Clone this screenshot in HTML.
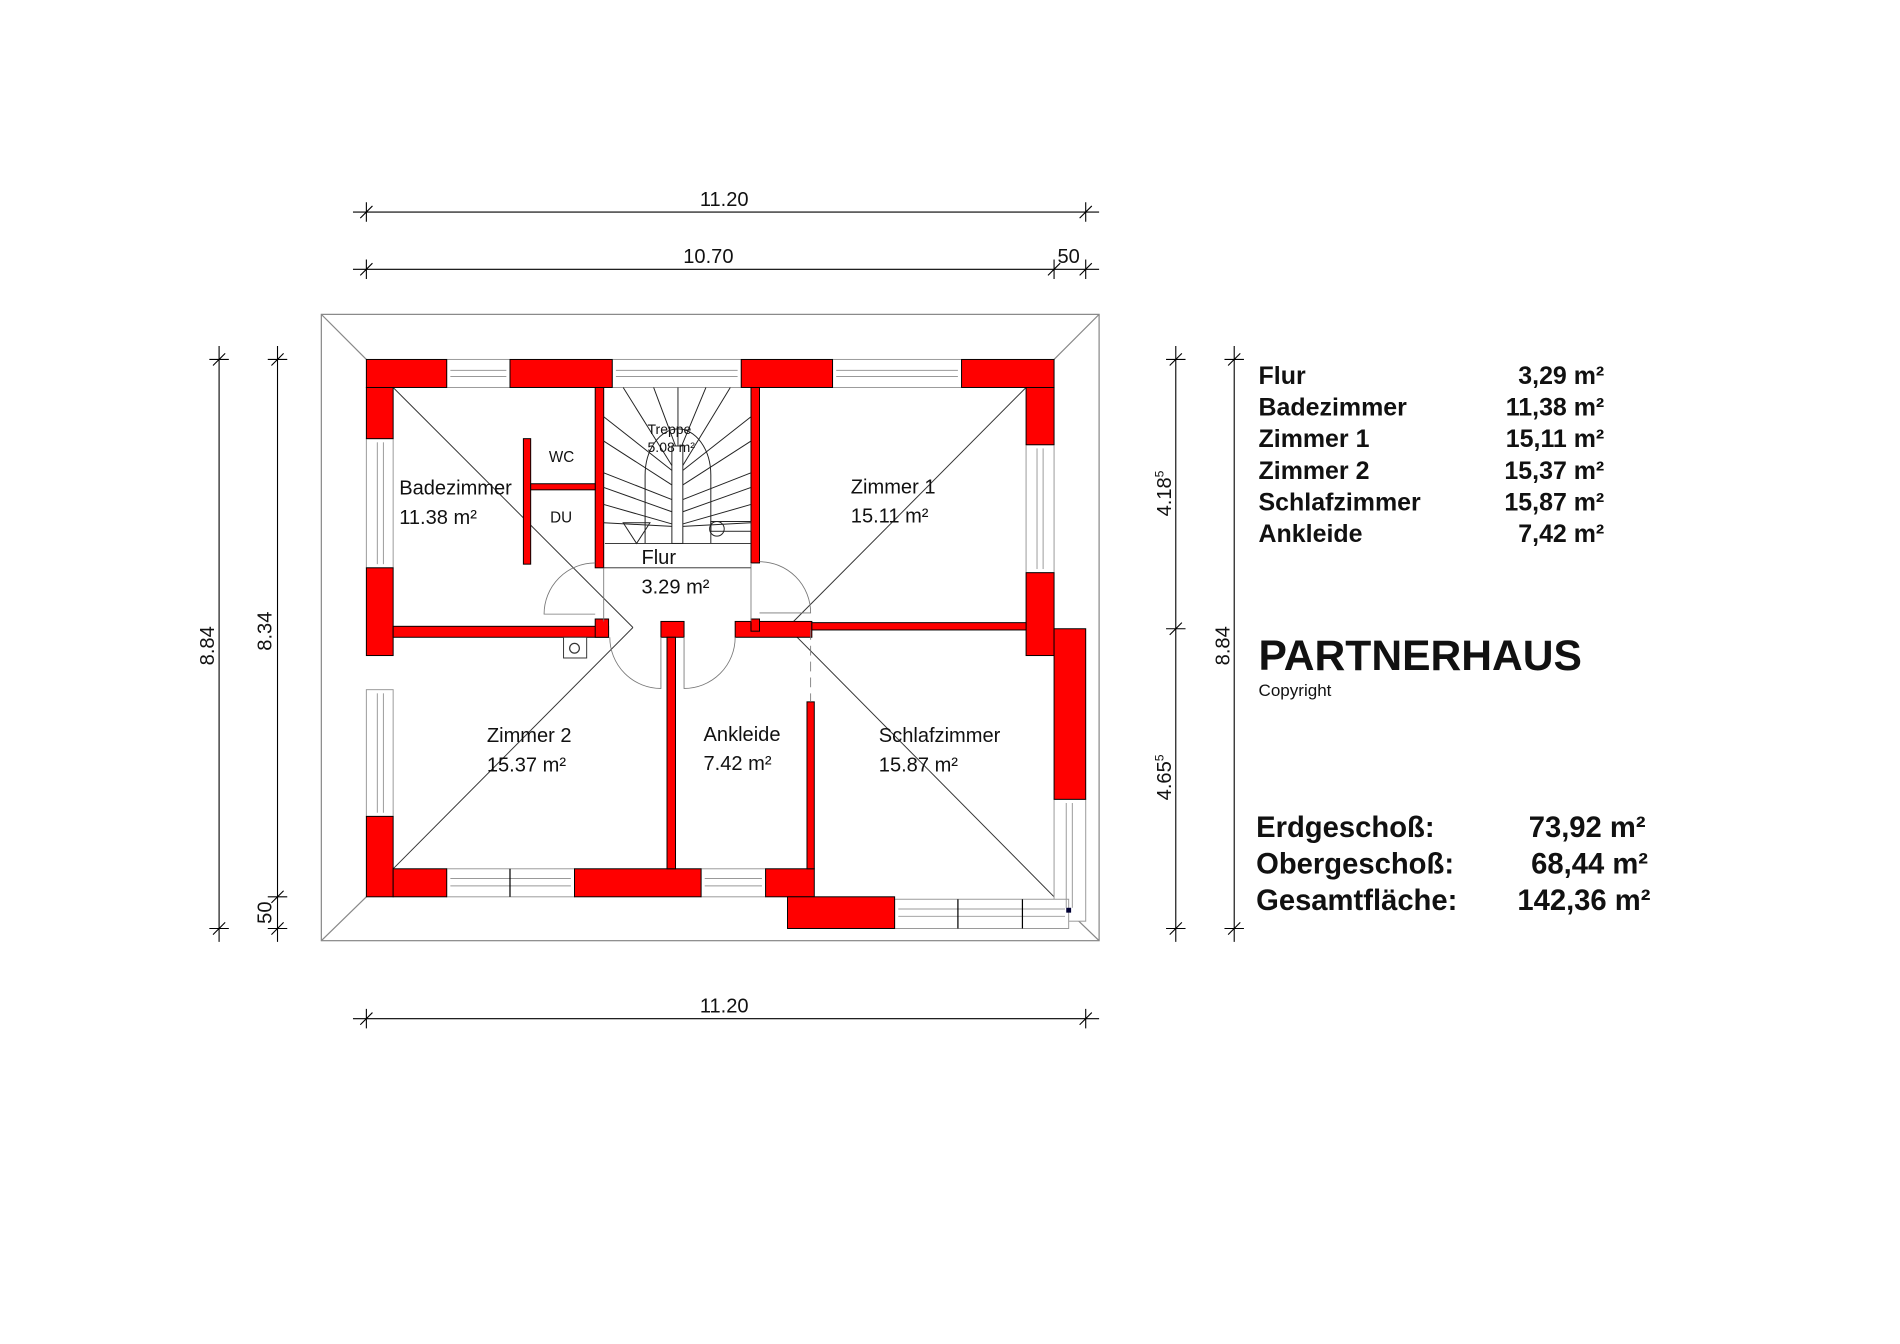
<!DOCTYPE html>
<html><head><meta charset="utf-8"><style>html,body{margin:0;padding:0;background:#fff}svg{display:block}</style></head><body>
<svg width="1900" height="1344" viewBox="0 0 1561 1103" preserveAspectRatio="none" xmlns="http://www.w3.org/2000/svg" font-family="Liberation Sans, sans-serif">
<rect width="1561" height="1103" fill="#fff"/>
<g stroke="#888" stroke-width="1" fill="none">
<rect x="264" y="258" width="639" height="514"/>
<line x1="264" y1="258" x2="301" y2="295"/><line x1="903" y1="258" x2="866" y2="295"/>
<line x1="264" y1="772" x2="301" y2="736"/><line x1="903" y1="772" x2="878" y2="748"/>
</g>
<g stroke="#333" stroke-width="0.8">
<line x1="323" y1="318" x2="520" y2="515"/><line x1="843" y1="318" x2="647" y2="515"/>
<line x1="323" y1="713" x2="520" y2="515"/><line x1="866" y1="736" x2="647" y2="515"/>
</g>
<g fill="#fff" stroke="#999" stroke-width="0.8">
<rect x="367" y="295" width="52" height="23"/><rect x="503" y="295" width="106" height="23"/><rect x="684" y="295" width="106" height="23"/>
<rect x="301" y="360" width="22" height="106"/><rect x="301" y="566" width="22" height="104"/>
<rect x="843" y="365" width="23" height="105"/><rect x="866" y="656" width="26" height="100"/>
<rect x="367" y="713" width="105" height="23"/><rect x="576" y="713" width="53" height="23"/><rect x="735" y="738" width="143" height="24"/>
</g>
<g stroke="#999" stroke-width="0.8">
<line x1="370" y1="304" x2="416" y2="304"/><line x1="370" y1="309" x2="416" y2="309"/>
<line x1="506" y1="304" x2="606" y2="304"/><line x1="506" y1="309" x2="606" y2="309"/>
<line x1="687" y1="304" x2="787" y2="304"/><line x1="687" y1="309" x2="787" y2="309"/>
<line x1="310" y1="363" x2="310" y2="463"/><line x1="315" y1="363" x2="315" y2="463"/>
<line x1="310" y1="569" x2="310" y2="667"/><line x1="315" y1="569" x2="315" y2="667"/>
<line x1="852" y1="368" x2="852" y2="467"/><line x1="857" y1="368" x2="857" y2="467"/>
<line x1="876" y1="659" x2="876" y2="745"/><line x1="881" y1="659" x2="881" y2="745"/>
<line x1="370" y1="721" x2="469" y2="721"/><line x1="370" y1="727" x2="469" y2="727"/>
<line x1="579" y1="721" x2="626" y2="721"/><line x1="579" y1="727" x2="626" y2="727"/>
<line x1="738" y1="746" x2="875" y2="746"/><line x1="738" y1="752" x2="875" y2="752"/>
</g>
<g stroke="#000" stroke-width="1"><line x1="419" y1="713" x2="419" y2="736"/><line x1="787" y1="738" x2="787" y2="762"/><line x1="840" y1="738" x2="840" y2="762"/></g>
<g fill="#f00" stroke="#000" stroke-width="0.8">
<rect x="301" y="295" width="66" height="23"/><rect x="419" y="295" width="84" height="23"/><rect x="609" y="295" width="75" height="23"/><rect x="790" y="295" width="76" height="23"/>
<rect x="301" y="318" width="22" height="42"/><rect x="301" y="466" width="22" height="72"/><rect x="301" y="670" width="22" height="66"/>
<rect x="843" y="318" width="23" height="47"/><rect x="843" y="470" width="23" height="68"/><rect x="866" y="516" width="26" height="140"/>
<rect x="323" y="713" width="44" height="23"/><rect x="472" y="713" width="104" height="23"/><rect x="629" y="713" width="40" height="23"/><rect x="647" y="736" width="88" height="26"/>
<rect x="323" y="514" width="177" height="9"/><rect x="489" y="508" width="11" height="15"/>
<rect x="543" y="510" width="19" height="13"/><rect x="604" y="510" width="63" height="13"/><rect x="617" y="508" width="7" height="10"/>
<rect x="667" y="511" width="176" height="6"/>
<rect x="489" y="318" width="7" height="148"/><rect x="617" y="318" width="7" height="144"/>
<rect x="548" y="523" width="7" height="190"/><rect x="663" y="576" width="6" height="137"/>
<rect x="430" y="360" width="6" height="103"/><rect x="436" y="397" width="53" height="5"/>
</g>
<g stroke="#222" stroke-width="0.8" fill="none">
<line x1="496" y1="466" x2="617" y2="466"/>
<line x1="497" y1="446" x2="617" y2="446"/>
<rect x="584" y="428" width="33" height="8"/>
<rect x="552" y="366" width="9" height="80"/>
<line x1="512" y1="318" x2="552" y2="382"/><line x1="537" y1="318" x2="555" y2="366"/><line x1="557" y1="318" x2="557" y2="366"/><line x1="580" y1="318" x2="560" y2="366"/><line x1="600" y1="318" x2="561" y2="382"/>
<line x1="496" y1="342" x2="552" y2="386"/><line x1="496" y1="362" x2="552" y2="398"/><line x1="496" y1="388" x2="552" y2="410"/><line x1="496" y1="400" x2="552" y2="420"/><line x1="496" y1="414" x2="552" y2="430"/><line x1="496" y1="429" x2="552" y2="432"/>
<line x1="617" y1="342" x2="561" y2="386"/><line x1="617" y1="362" x2="561" y2="398"/><line x1="617" y1="388" x2="561" y2="410"/><line x1="617" y1="400" x2="561" y2="420"/><line x1="617" y1="414" x2="561" y2="430"/><line x1="617" y1="429" x2="561" y2="432"/>
<path d="M530 446 V390 A27 38 0 0 1 584 390 V446"/>
<path d="M512 429 L534 429 L523 446 Z"/>
<circle cx="589" cy="434" r="6"/>
</g>
<g stroke="#777" stroke-width="0.7" fill="none">
<path d="M489 462 A42 42 0 0 0 447 504 H489"/>
<path d="M624 461 A42 42 0 0 1 666 503 H624"/>
<path d="M543 523 V565 A42 42 0 0 1 501 523"/>
<path d="M562 523 V565 A42 42 0 0 0 604 523"/>
<line x1="666" y1="517" x2="666" y2="576" stroke-dasharray="8 5"/>
<line x1="496" y1="466" x2="496" y2="510"/><line x1="617" y1="462" x2="617" y2="510"/>
</g>
<rect x="463" y="523" width="19" height="17" fill="#fff" stroke="#333" stroke-width="0.8"/><circle cx="472" cy="532" r="4" fill="none" stroke="#333"/>
<rect x="876" y="745" width="4" height="4" fill="#003"/>
<g font-size="16.5" fill="#111">
<text x="328" y="406">Badezimmer</text><text x="328" y="430">11.38 m²</text>
<text x="451" y="379" font-size="12.5">WC</text><text x="452" y="429" font-size="12.5">DU</text>
<text x="532" y="356" font-size="11.5">Treppe</text><text x="532" y="371" font-size="11.5">5.08 m²</text>
<text x="527" y="463">Flur</text><text x="527" y="487">3.29 m²</text>
<text x="699" y="405">Zimmer 1</text><text x="699" y="429">15.11 m²</text>
<text x="400" y="609">Zimmer 2</text><text x="400" y="633">15.37 m²</text>
<text x="578" y="608">Ankleide</text><text x="578" y="632">7.42 m²</text>
<text x="722" y="609">Schlafzimmer</text><text x="722" y="633">15.87 m²</text>
</g>
<g stroke="#000" stroke-width="0.9">
<line x1="290" y1="174" x2="903" y2="174"/>
<line x1="290" y1="221" x2="903" y2="221"/>
<line x1="290" y1="836" x2="903" y2="836"/>
<line x1="180" y1="284" x2="180" y2="773"/>
<line x1="228" y1="284" x2="228" y2="773"/>
<line x1="966" y1="284" x2="966" y2="773"/>
<line x1="1014" y1="284" x2="1014" y2="773"/>
</g>
<g stroke="#000" stroke-width="0.9">
<path d="M301 166v16M296 179l10-10M892 166v16M887 179l10-10"/>
<path d="M301 213v16M296 226l10-10M866 213v16M861 226l10-10M892 213v16M887 226l10-10"/>
<path d="M301 828v16M296 841l10-10M892 828v16M887 841l10-10"/>
<path d="M172 295h16M175 300l10-10M172 762h16M175 767l10-10"/>
<path d="M220 295h16M223 300l10-10M220 736h16M223 741l10-10M220 762h16M223 767l10-10"/>
<path d="M958 295h16M961 300l10-10M958 516h16M961 521l10-10M958 762h16M961 767l10-10"/>
<path d="M1006 295h16M1009 300l10-10M1006 762h16M1009 767l10-10"/>
</g>
<g font-size="16.5" fill="#111">
<text x="595" y="169" text-anchor="middle">11.20</text>
<text x="582" y="216" text-anchor="middle">10.70</text>
<text x="878" y="216" text-anchor="middle">50</text>
<text x="595" y="831" text-anchor="middle">11.20</text>
<text transform="translate(176 530) rotate(-90)" text-anchor="middle">8.84</text>
<text transform="translate(223 518) rotate(-90)" text-anchor="middle">8.34</text>
<text transform="translate(223 749) rotate(-90)" text-anchor="middle">50</text>
<text transform="translate(962 405) rotate(-90)" text-anchor="middle">4.18<tspan font-size="10" dy="-6">5</tspan></text>
<text transform="translate(962 638) rotate(-90)" text-anchor="middle">4.65<tspan font-size="10" dy="-6">5</tspan></text>
<text transform="translate(1010 530) rotate(-90)" text-anchor="middle">8.84</text>
</g>
<g font-size="20.5" font-weight="bold" fill="#111">
<text x="1034" y="315">Flur</text><text x="1318" y="315" text-anchor="end">3,29 m²</text>
<text x="1034" y="341">Badezimmer</text><text x="1318" y="341" text-anchor="end">11,38 m²</text>
<text x="1034" y="367">Zimmer 1</text><text x="1318" y="367" text-anchor="end">15,11 m²</text>
<text x="1034" y="393">Zimmer 2</text><text x="1318" y="393" text-anchor="end">15,37 m²</text>
<text x="1034" y="419">Schlafzimmer</text><text x="1318" y="419" text-anchor="end">15,87 m²</text>
<text x="1034" y="445">Ankleide</text><text x="1318" y="445" text-anchor="end">7,42 m²</text>
</g>
<text x="1034" y="550" font-size="35" font-weight="bold" fill="#111">PARTNERHAUS</text>
<text x="1034" y="571" font-size="14" fill="#111">Copyright</text>
<g font-size="24" font-weight="bold" fill="#111">
<text x="1032" y="687">Erdgeschoß:</text><text x="1352" y="687" text-anchor="end">73,92 m²</text>
<text x="1032" y="717">Obergeschoß:</text><text x="1354" y="717" text-anchor="end">68,44 m²</text>
<text x="1032" y="747">Gesamtfläche:</text><text x="1356" y="747" text-anchor="end">142,36 m²</text>
</g>
</svg>
</body></html>
